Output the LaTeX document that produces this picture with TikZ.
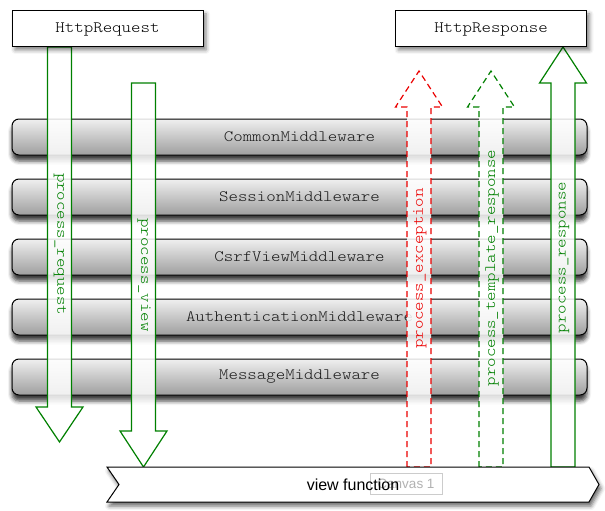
\documentclass[tikz,border=0pt]{standalone}
\usepackage{fontspec}
\setmainfont{Liberation Sans}
\newfontfamily\monofont[FakeStretch=1.14]{Latin Modern Mono Light}
\usetikzlibrary{shadows.blur}
\definecolor{agreen}{RGB}{0,128,0}
\definecolor{ared}{RGB}{235,0,0}
\newcommand\lowtxt[1]{\raisebox{-2.5pt}{#1}}
\begin{document}
\begin{tikzpicture}[x=1pt,y=-1pt,
  box/.style={draw=black, line width=1pt, fill=white, minimum width=191pt, minimum height=36pt,
    font=\monofont\fontsize{15.8}{18}\selectfont,
    blur shadow={shadow xshift=3pt, shadow yshift=-3pt, shadow blur radius=4pt, shadow opacity=50}},
  bar/.style={draw=black, line width=1pt, rounded corners=7pt, top color=black!6, bottom color=black!38,
    minimum width=575pt, minimum height=36pt, font=\monofont\fontsize{15.8}{18}\selectfont, text=black!90,
    blur shadow={shadow xshift=0pt, shadow yshift=-6pt, shadow blur radius=4pt, shadow opacity=75}},
  farrow/.style={draw=agreen, line width=1.2pt, fill=white, fill opacity=0.85, line join=miter},
  darrow/.style={farrow, dash pattern=on 6pt off 4pt},
  redarrow/.style={darrow, draw=ared},
  vlabel/.style={font=\monofont\fontsize{15.8}{18}\selectfont, text=agreen, inner sep=0pt},
  vfshape/.style={draw=black, line width=1pt, fill=white,
    blur shadow={shadow xshift=2pt, shadow yshift=-4pt, shadow blur radius=4pt, shadow opacity=60}},
]
\useasboundingbox (0,0) rectangle (605,511);

% middleware bars
\node[bar] (common) at (299.5,137) {\lowtxt{CommonMiddleware}};
\node[bar] (session) at (299.5,197) {\lowtxt{SessionMiddleware}};
\node[bar] (csrf) at (299.5,257) {\lowtxt{CsrfViewMiddleware}};
\node[bar] (auth) at (299.5,317) {\lowtxt{AuthenticationMiddleware}};
\node[bar] (message) at (299.5,377) {\lowtxt{MessageMiddleware}};

% arrows
\draw[farrow] (47.5,47) -- (71.5,47) -- (71.5,407) -- (83,407) -- (59.5,442) -- (36,407) -- (47.5,407) -- cycle;
\draw[farrow] (131.5,83) -- (155.5,83) -- (155.5,431) -- (167,431) -- (143.5,467) -- (120,431) -- (131.5,431) -- cycle;
\draw[redarrow] (407,467) -- (407,107) -- (395.5,107) -- (419,71) -- (442.5,107) -- (431,107) -- (431,467) -- cycle;
\draw[darrow] (479,467) -- (479,107) -- (467.5,107) -- (491,71) -- (514.5,107) -- (503,107) -- (503,467) -- cycle;
\draw[farrow] (551,467) -- (551,83) -- (539.5,83) -- (563,47) -- (586.5,83) -- (575,83) -- (575,467) -- cycle;

% arrow labels
\node[vlabel, rotate=-90] (lreq) at (60,244) {process\_request};
\node[vlabel, rotate=-90] (lview) at (144,275) {process\_view};
\node[vlabel, rotate=90, text=ared] (lexc) at (420,268.5) {process\_exception};
\node[vlabel, rotate=90] (ltpl) at (492,268) {process\_template\_response};
\node[vlabel, rotate=90] (lresp) at (564,257.5) {process\_response};

% top boxes
\node[box] (req) at (107.5,29) {\lowtxt{HttpRequest}};
\node[box] (resp) at (491,29) {\lowtxt{HttpResponse}};

% view function
\path[vfshape] (107,467) -- (589,467) -- (599,484.5) -- (589,502) -- (107,502) -- (119,484.5) -- cycle;
\node[draw=black!20, line width=0.8pt, minimum width=72pt, minimum height=21pt, inner sep=0pt,
  font=\fontsize{13.5}{15}\selectfont, text=black!30] (canvas) at (406,483.5) {Canvas 1};
\node[font=\fontsize{16}{18}\selectfont, inner sep=0pt] (vf) at (353,484.5) {view function};
\end{tikzpicture}
\end{document}
